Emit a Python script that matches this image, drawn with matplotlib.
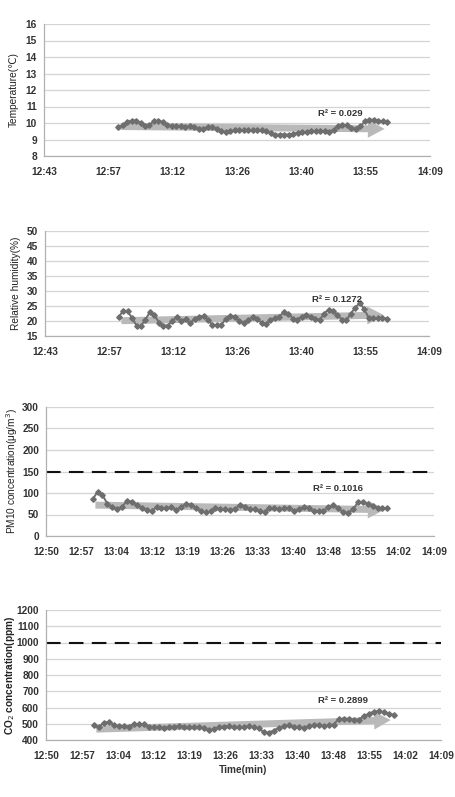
import numpy as np
import matplotlib
matplotlib.use("Agg")
import matplotlib.pyplot as plt

plt.rcParams['font.family'] = ['Liberation Sans', 'DejaVu Sans']

# ---- data ----
start_min = 12 * 60 + 59.5      # first sample (minutes since midnight)
step_min = 1.0                  # sampling interval

temperature = [9.75, 9.85, 10.05, 10.15, 10.15, 10.0, 9.8, 9.9, 10.1, 10.15,
               10.05, 9.85, 9.8, 9.8, 9.8, 9.75, 9.8, 9.75, 9.65, 9.65,
               9.75, 9.75, 9.65, 9.5, 9.45, 9.5, 9.55, 9.55, 9.55, 9.55,
               9.55, 9.55, 9.55, 9.5, 9.4, 9.3, 9.3, 9.3, 9.3, 9.35,
               9.4, 9.45, 9.45, 9.5, 9.5, 9.5, 9.5, 9.45, 9.6, 9.8,
               9.85, 9.85, 9.7, 9.65, 9.8, 10.1, 10.2, 10.2, 10.15, 10.1, 10.05]

humidity = [21.2, 23.5, 23.2, 21.0, 18.5, 18.3, 20.5, 23.0, 22.0, 19.5,
            18.5, 18.5, 20.0, 21.3, 20.0, 20.8, 19.3, 20.7, 21.2, 21.8,
            20.5, 18.7, 18.7, 18.7, 20.8, 21.8, 21.5, 20.0, 19.3, 20.3,
            21.2, 20.8, 19.3, 19.0, 20.3, 21.0, 21.5, 23.0, 22.5, 20.8,
            20.5, 21.5, 22.0, 21.2, 20.8, 20.3, 22.5, 23.8, 23.5, 22.0,
            20.5, 20.3, 22.5, 24.5, 26.0, 24.0, 21.0, 21.0, 21.0, 21.0, 20.8]

pm10 = [85, 103, 95, 75, 67, 62, 68, 82, 80, 72,
        66, 60, 58, 67, 66, 64, 68, 60, 67, 75,
        73, 65, 58, 55, 57, 65, 63, 62, 61, 62,
        73, 68, 62, 62, 57, 55, 66, 64, 62, 64,
        66, 58, 63, 67, 65, 57, 57, 57, 68, 72,
        65, 55, 54, 62, 78, 80, 75, 70, 66, 64, 64]

co2 = [490, 478, 505, 512, 495, 485, 485, 483, 497, 497,
       497, 483, 480, 478, 475, 478, 483, 485, 483, 480,
       478, 478, 475, 460, 465, 478, 483, 485, 480, 478,
       480, 485, 478, 472, 450, 445, 458, 475, 485, 490,
       480, 482, 475, 485, 490, 495, 485, 490, 495, 528,
       532, 530, 525, 525, 545, 560, 575, 578, 570, 562, 555]

ticks_a = ['12:43', '12:57', '13:12', '13:26', '13:40', '13:55', '14:09']
ticks_b = ['12:50', '12:57', '13:04', '13:12', '13:19', '13:26', '13:33',
           '13:40', '13:48', '13:55', '14:02', '14:09']
xlim_a = (12 * 60 + 43, 14 * 60 + 9)
xlim_b = (12 * 60 + 50, 14 * 60 + 9)

r2_labels = ['R² = 0.029', 'R² = 0.1272', 'R² = 0.1016', 'R² = 0.2899']
limits_pm10 = 150
limits_co2 = 1000

# ---- figure ----
W, H = 455, 797
fig = plt.figure(figsize=(W / 100, H / 100), dpi=100)


def rect(l, r, t, b):
    return [l / W, 1 - b / H, (r - l) / W, (b - t) / H]


panels = [
    dict(data=temperature, px=(44, 430, 24, 156), ylim=(8, 16), yticks=np.arange(8, 17, 1),
         xlim=xlim_a, xt=ticks_a, ylabel='Temperature(℃)', r2=r2_labels[0], r2pos=(829, 10.6),
         hline=None, ylw='normal', ylx=14),
    dict(data=humidity, px=(45, 429, 231, 336), ylim=(15, 50), yticks=np.arange(15, 51, 5),
         xlim=xlim_a, xt=ticks_a, ylabel='Relative humidity(%)', r2=r2_labels[1], r2pos=(828.5, 27.3),
         hline=None, ylw='normal', ylx=16),
    dict(data=pm10, px=(46, 434, 407, 536), ylim=(0, 300), yticks=np.arange(0, 301, 50),
         xlim=xlim_b, xt=ticks_b, ylabel='PM10 concentration(μg/m$^3$)', r2=r2_labels[2], r2pos=(829.5, 111),
         hline=limits_pm10, ylw='normal', ylx=12),
    dict(data=co2, px=(46, 441, 610, 740), ylim=(400, 1200), yticks=np.arange(400, 1201, 100),
         xlim=xlim_b, xt=ticks_b, ylabel='CO$_2$ concentration(ppm)', r2=r2_labels[3], r2pos=(829.5, 641),
         hline=limits_co2, ylw='bold', ylx=10),
]

for i, p in enumerate(panels):
    l, r, t, b = p['px']
    ax = fig.add_axes(rect(l, r, t, b))
    y = np.asarray(p['data'], dtype=float)
    x = start_min + step_min * np.arange(len(y))
    ax.set_xlim(*p['xlim'])
    ax.set_ylim(*p['ylim'])
    ax.set_yticks(p['yticks'])
    ax.set_xticks(np.linspace(p['xlim'][0], p['xlim'][1], len(p['xt'])))
    ax.set_xticklabels(p['xt'])
    ax.grid(axis='y', color='#d4d4d4', lw=0.9)
    ax.set_axisbelow(True)
    for s in ['top', 'right']:
        ax.spines[s].set_visible(False)
    for s in ['left', 'bottom']:
        ax.spines[s].set_color('#b0b0b0')
        ax.spines[s].set_linewidth(0.9)
    ax.tick_params(length=0, labelsize=7.3, colors='#333333')
    ax.tick_params(axis='x', pad=8)
    ax.tick_params(axis='y', pad=5)
    for lab in ax.get_xticklabels() + ax.get_yticklabels():
        lab.set_fontweight('bold')

    # trend line as arrow
    k, b0 = np.polyfit(x, y, 1)
    ax.annotate('', xy=(x[-1], k * x[-1] + b0), xytext=(x[0], k * x[0] + b0),
                arrowprops=dict(arrowstyle='simple,head_length=1.2,head_width=1.3,tail_width=0.5',
                                color='#b9b9b9', lw=0, mutation_scale=10), zorder=2)
    ax.plot(x, y, color='#6e6e6e', lw=1.4, marker='D', ms=2.8, zorder=3)

    if p['hline'] is not None:
        ax.axhline(p['hline'], color='#111111', lw=1.5, dashes=(7, 4), zorder=2)

    ax.text(p['r2pos'][0], p['r2pos'][1], p['r2'], fontsize=6.8, fontweight='bold',
            color='#333333', ha='center', va='center')
    ax.set_ylabel(p['ylabel'], fontsize=7.3, fontweight=p['ylw'], color='#222222')
    ax.yaxis.label.set_verticalalignment('center')
    ax.yaxis.set_label_coords((p['ylx'] - l) / (r - l), 0.5)
    if i == 3:
        ax.set_xlabel('Time(min)', fontsize=7.3, fontweight='bold', color='#333333', labelpad=3)

fig.savefig('out.png', dpi=100, facecolor='white')
